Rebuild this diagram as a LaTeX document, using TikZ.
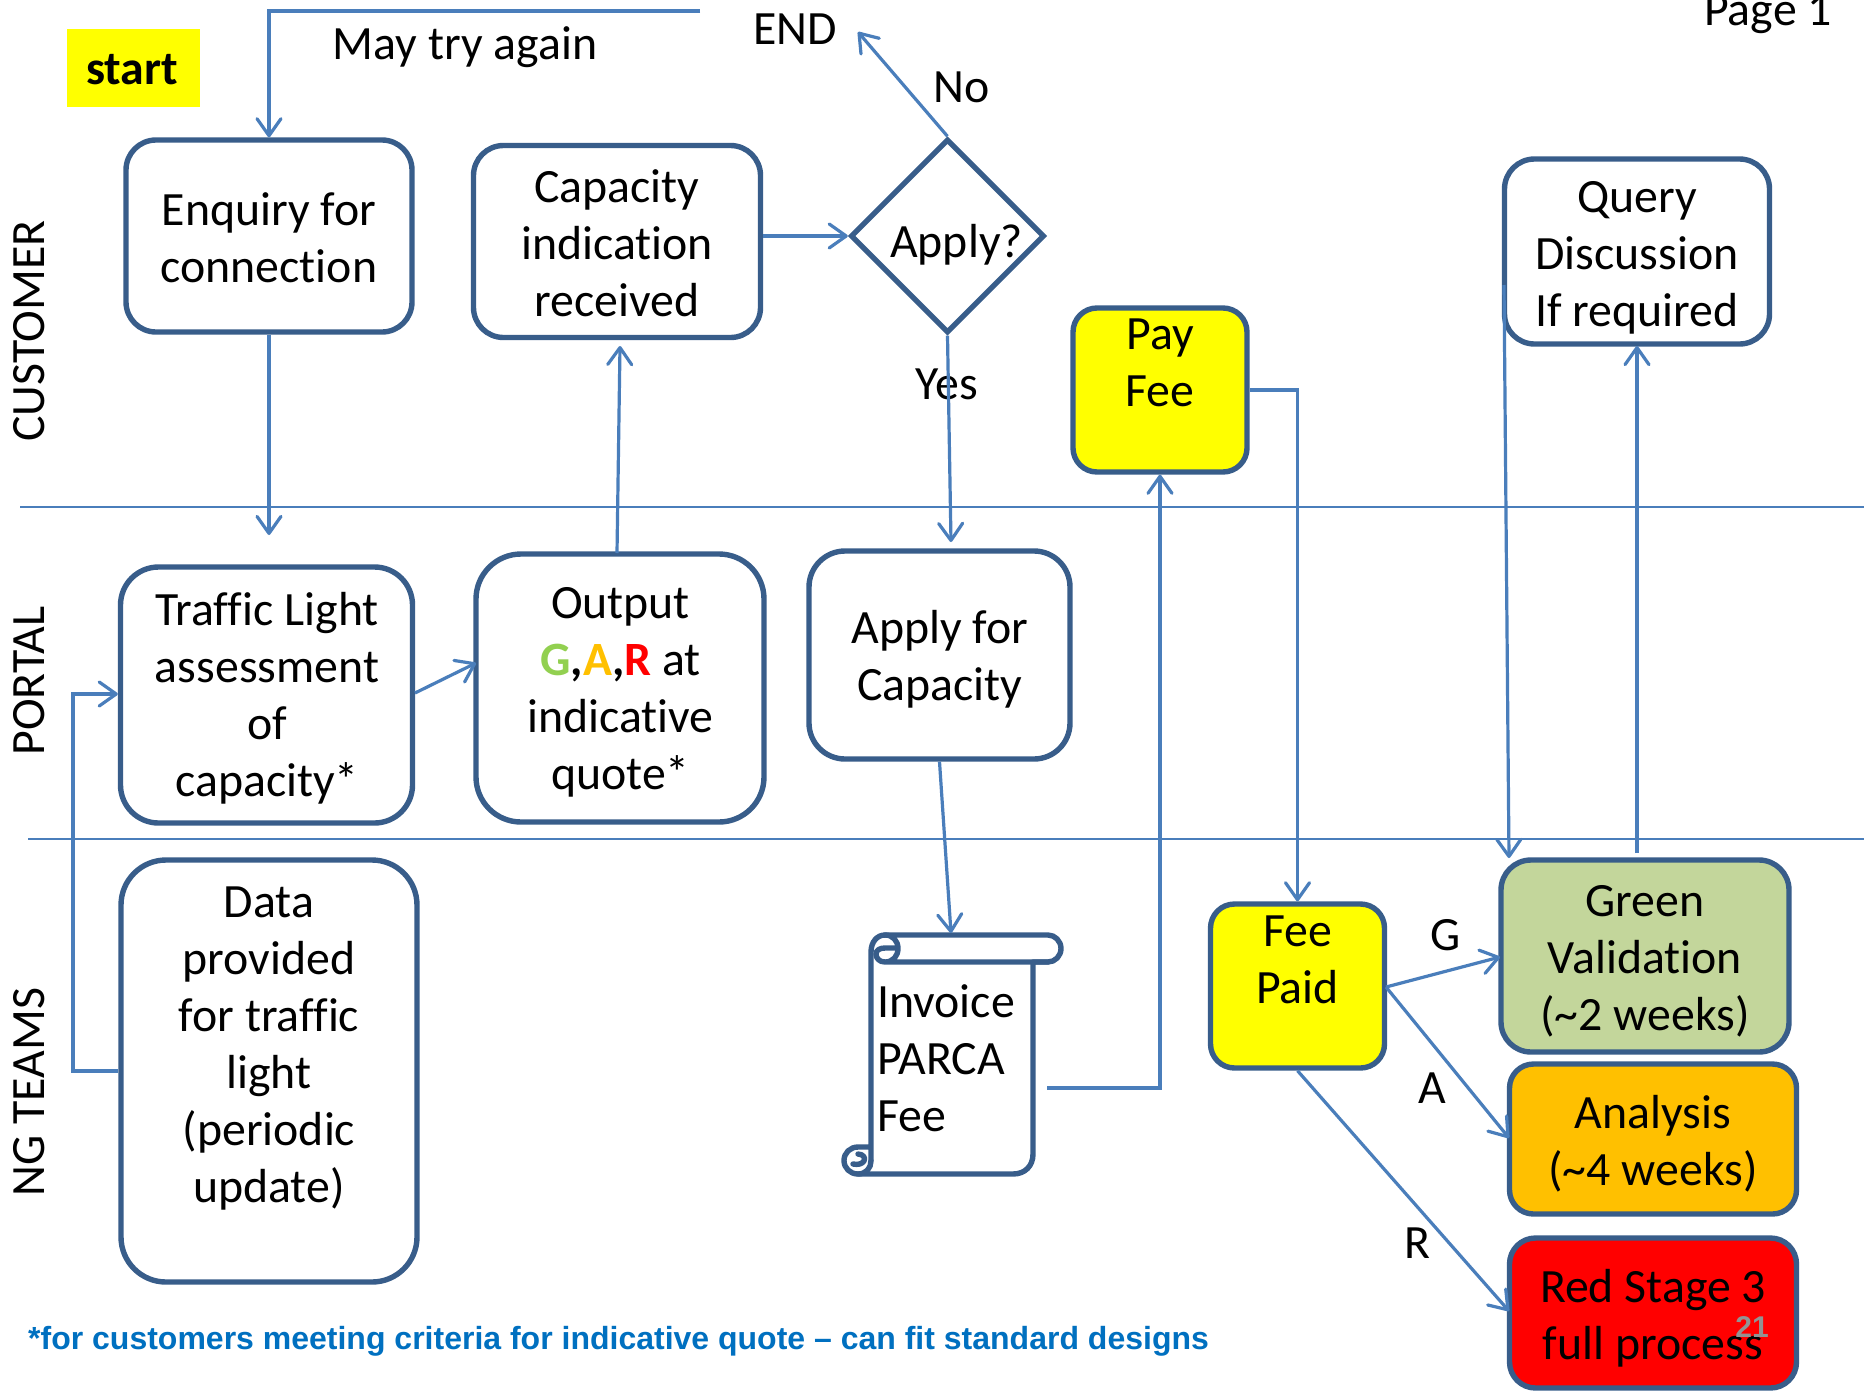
\documentclass[tikz,border=0pt]{standalone}
\usepackage{fontspec}
\setmainfont[Ligatures=NoCommon]{Carlito}
\newfontfamily\arialf{Liberation Sans}
\usetikzlibrary{arrows.meta,shapes.geometric}
\definecolor{bx}{HTML}{385D8A}
\definecolor{ln}{HTML}{4A7EBB}
\definecolor{grn}{HTML}{C3D69B}
\definecolor{amb}{HTML}{FFC000}
\definecolor{yel}{HTML}{FFFF00}
\definecolor{redb}{HTML}{FF0000}
\definecolor{gg}{HTML}{92D050}
\definecolor{footb}{HTML}{0070C0}
\tikzset{x=1pt,y=-1pt,
 every node/.style={font=\fontsize{47.8}{57}\selectfont,align=center,inner sep=0pt,text=black},
 flow/.style={draw=bx,line width=5.4pt,minimum width=0pt},
 conn/.style={draw=ln,line width=3.2pt,rounded corners=0pt,-{Straight Barb[length=17pt,width=24pt,line width=3.2pt,round]}},
 lane/.style={draw=ln,line width=1.8pt}}
\begin{document}
\begin{tikzpicture}
\useasboundingbox (0,0) rectangle (1864,1390);
\fill[white] (0,0) rectangle (1864,1390);
% lanes
\coordinate (l1a) at (20,507); \coordinate (l1b) at (1864,507);
\coordinate (l2a) at (28,839); \coordinate (l2b) at (1864,839);
\draw[lane] (l1a)--(l1b); \draw[lane] (l2a)--(l2b);
\node[rotate=90] (cust) at (29,331) {CUSTOMER};
\node[rotate=90] (port) at (29,681) {PORTAL};
\node[rotate=90] (ng) at (29,1092) {NG TEAMS};
\node[fill=yel,minimum width=133pt,minimum height=78pt] (start) at (133,68) {};
\node[font=\fontsize{47.8}{57}\bfseries\selectfont] (startt) at (132,70) {start};
\node (page) at (1768,14) {Page 1};
\node (end) at (795,29) {END};
\node (may) at (465,47) {May try again};
\node (no) at (962,87) {No};
\node (yes) at (947,384) {Yes};
% boxes
\node[flow,rounded corners=30pt,minimum width=286pt,minimum height=192pt] (enq) at (269,236) {};
\node (enqt) at (269,238) {Enquiry for\\connection};
\node[flow,rounded corners=30pt,minimum width=287pt,minimum height=192pt] (cap) at (617,241.5) {};
\node (capt) at (617,243) {Capacity\\indication\\received};
\node[diamond,aspect=1,draw=bx,line width=5.4pt,minimum width=194pt,minimum height=194pt] (app) at (947.5,236) {};
\node (appt) at (956.5,245) {Apply?};
\node[flow,rounded corners=24pt,fill=yel,minimum width=174pt,minimum height=164pt] (pay) at (1160,390) {};
\node (payt) at (1160,363) {Pay\\Fee};
\node[flow,rounded corners=30pt,minimum width=265pt,minimum height=185pt] (qry) at (1637,251.5) {};
\node (qryt) at (1637,258) {Query\\Discussion\\If required};
\node[flow,rounded corners=38pt,minimum width=292pt,minimum height=256pt] (tl) at (266.5,695) {};
\node (tlt) at (267,698) {Traffic Light\\assessment\\of\\capacity*};
\node[flow,rounded corners=45pt,minimum width=288pt,minimum height=268pt] (out) at (620,688) {};
\node (outt) at (620.5,692.5) {Output\\{\bfseries\color{gg}G\color{black},\color{amb}A\color{black},\color{redb}R} at\\indicative\\quote*};
\node[flow,rounded corners=36pt,minimum width=261pt,minimum height=208pt] (afc) at (939.5,655) {};
\node (afct) at (940,659.5) {Apply for\\Capacity};
\node[flow,rounded corners=45pt,minimum width=296pt,minimum height=422pt] (data) at (269,1071) {};
\node (datat) at (269,1049) {Data\\provided\\for traffic\\light\\(periodic\\update)};
\node[flow,fill=yel,minimum width=174pt,minimum height=164pt,rounded corners=24pt] (fee) at (1297.5,986) {};
\node (feet) at (1297.5,960) {Fee\\Paid};
\node[flow,rounded corners=30pt,fill=grn,minimum width=288pt,minimum height=192pt] (gv) at (1645,956) {};
\node (gvt) at (1645,961) {Green\\Validation\\(\textasciitilde2 weeks)};
\node[flow,fill=amb,minimum width=287pt,minimum height=150pt,rounded corners=24pt] (an) at (1653,1139) {};
\node (ant) at (1653,1144) {Analysis\\(\textasciitilde4 weeks)};
\node[flow,fill=redb,minimum width=287pt,minimum height=150pt,rounded corners=26pt] (rd) at (1653,1313) {};
\node (rdt) at (1653,1318) {Red Stage 3\\full process};
\node[text=gray!85,font=\arialf\fontsize{30}{30}\bfseries\selectfont] (n21) at (1752,1327) {21};
\node (g) at (1446,935) {G};
\node (a) at (1432,1088) {A};
\node (r) at (1417,1243) {R};
\node[anchor=west,font=\arialf\fontsize{32}{36}\bfseries\selectfont,text=footb] (foot) at (28,1341) {*for customers meeting criteria for indicative quote – can fit standard designs};
% scroll
\draw[bx,line width=5.4pt,line join=round,fill=white]
  (871,1161) -- (871,952) .. controls (871,942) and (877,935) .. (885,935)
  -- (1048,935) .. controls (1055,935) and (1061,941) .. (1061,948.5)
  .. controls (1061,956) and (1055,962) .. (1048,962) -- (1033,962)
  -- (1033,1154) .. controls (1033,1166) and (1025,1174) .. (1013,1174) -- (858,1174)
  .. controls (850,1174) and (844,1168) .. (844,1160.5)
  .. controls (844,1153) and (850,1147) .. (858,1147) -- (871,1147);
\draw[bx,line width=5.4pt,line cap=round,line join=round,fill=white]
  (885,935) .. controls (893,935) and (898,941) .. (898,948.5)
  .. controls (898,956) and (893,962) .. (885,962)
  .. controls (879,962) and (876,958) .. (876,954)
  .. controls (876,950) and (880,948) .. (885,948) -- (898,948)
  (885,962) -- (1048,962);
\draw[bx,line width=5.4pt,line cap=round,line join=round]
  (871,1161) .. controls (871,1168) and (866,1174) .. (858,1174)
  (858,1154) .. controls (863,1154) and (866,1158) .. (864,1161)
  .. controls (862,1164) and (858,1165) .. (853,1164);
\node[anchor=west,align=left] (inv) at (877,1058) {Invoice\\PARCA\\Fee};
% free ends
\coordinate (retry) at (700,11);
\coordinate (retryc) at (269,11);
\coordinate (tlin) at (269,535);
\coordinate (capin) at (620,346);
\coordinate (outup) at (617,553);
\coordinate (endin) at (858,32);
\coordinate (afcin) at (951,542);
\coordinate (tlout) at (415,693);
\coordinate (outin) at (476,663);
\coordinate (scrin) at (951,933);
\coordinate (scrout) at (1047,1088);
\coordinate (qryout) at (1504,285);
\coordinate (gvin) at (1509,858);
\coordinate (gvup) at (1637,853);
\coordinate (qryin) at (1637,346);
\coordinate (feeo) at (1386,987);
\coordinate (gin) at (1500,957);
\coordinate (ain) at (1509,1138);
\coordinate (rin) at (1509,1311);
% connectors
\draw[conn] (retry) -- (retryc) -- (enq.north);
\draw[conn] (enq.south) -- (tlin);
\draw[conn] (outup) -- (capin);
\draw[conn] (cap.east |- app.west) -- (app.west);
\draw[conn] (app.north) -- (endin);
\draw[conn] (app.south) -- (afcin);
\draw[conn] (tlout) -- (outin);
\draw[conn] (data.west) -- (73,1071) -- (73,694) -- (tl.west |- 0,694);
\draw[conn] (afc.south) -- (scrin);
\draw[conn] (scrout) -- (pay.south |- scrout) -- (pay.south);
\draw[conn] (pay.east) -- (fee.north |- pay.east) -- (fee.north);
\draw[conn] (qryout) -- (gvin);
\draw[conn] (gvup) -- (qryin);
\draw[conn] (feeo) -- (gin);
\draw[conn] (feeo) -- (ain);
\draw[conn] (fee.south) -- (rin);
\end{tikzpicture}
\end{document}
